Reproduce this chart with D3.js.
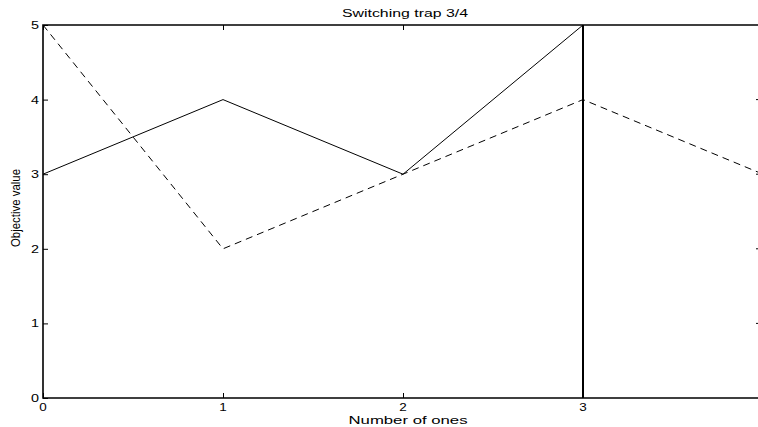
<!DOCTYPE html>
<html>
<head>
<meta charset="utf-8">
<script src="https://cdn.jsdelivr.net/npm/d3@7"></script>
<style>
  html, body { margin: 0; padding: 0; background: #fff; overflow: hidden; }
  svg { display: block; overflow: hidden; }
  text { font-family: "Liberation Sans", Arial, sans-serif; fill: #000; }
</style>
</head>
<body>
<svg id="chart" width="758" height="427"></svg>
<script>
// data
const ones = [0, 1, 2, 3, 4]
const solidVals = [3, 4, 3, 5]        // stops at 3 ones
const dashedVals = [5, 2, 3, 4, 3]
const markerX = 3                     // thick vertical line
const xTicks = [0, 1, 2, 3]
const yTicks = [0, 1, 2, 3, 4, 5]
const title = "Switching trap 3/4"

const svg = d3.select("#chart")
const plotLeft = 43, plotRight = 763, plotTop = 25, plotBottom = 398

svg.append("defs").append("clipPath").attr("id", "page")
  .append("rect").attr("width", 758).attr("height", 427)

const root = svg.append("g").attr("clip-path", "url(#page)")

const x = d3.scaleLinear().domain([0, 4]).range([plotLeft, plotRight])
const y = d3.scaleLinear().domain([0, 5]).range([plotBottom, plotTop])

const line = d3.line()
    .x(d => x(d[0]))
    .y(d => y(d[1]))

// solid series
root.append("path")
    .datum(solidVals.map((v, i) => [ones[i], v]))
    .attr("d", line)
    .attr("fill", "none")
    .attr("stroke", "#000")
    .attr("stroke-width", 1)

// dashed series
root.append("path")
    .datum(dashedVals.map((v, i) => [ones[i], v]))
    .attr("d", line)
    .attr("fill", "none")
    .attr("stroke", "#000")
    .attr("stroke-width", 1)
    .attr("stroke-dasharray", "7,5")

// vertical marker
root.append("path")
    .datum([[markerX, 0], [markerX, 5]])
    .attr("d", line)
    .attr("fill", "none")
    .attr("stroke", "#000")
    .attr("stroke-width", 2)

// box: the right edge falls outside the page, so only three sides
root.append("path")
    .attr("d", "M" + plotRight + "," + plotTop + "H" + plotLeft + "V" + plotBottom + "H" + plotRight)
    .attr("fill", "none")
    .attr("stroke", "#000")
    .attr("stroke-width", 1.6)

// inward ticks, labels drawn separately (stretched font)
root.append("g")
    .attr("transform", "translate(0," + plotBottom + ")")
    .call(d3.axisBottom(x).tickValues(xTicks).tickFormat("").tickSize(-5))
root.append("g")
    .attr("transform", "translate(0," + plotTop + ")")
    .call(d3.axisTop(x).tickValues(xTicks).tickFormat("").tickSize(-5))
root.append("g")
    .attr("transform", "translate(" + plotLeft + ",0)")
    .call(d3.axisLeft(y).tickValues(yTicks).tickFormat("").tickSize(-5))

root.selectAll(".domain").remove()
root.selectAll(".tick line").attr("stroke", "#000")

// right-hand ticks peek in at the window edge
root.selectAll(".rtick").data(yTicks.slice(1, 5)).enter().append("line")
    .attr("class", "rtick")
    .attr("x1", 756).attr("x2", 758)
    .attr("y1", d => y(d)).attr("y2", d => y(d))
    .attr("stroke", "#000")

// tick labels
root.selectAll(".xlab").data(xTicks).enter().append("text")
    .attr("class", "xlab")
    .attr("x", d => x(d))
    .attr("y", plotBottom + 13)
    .attr("text-anchor", "middle")
    .attr("textLength", 7.5)
    .attr("lengthAdjust", "spacingAndGlyphs")
    .style("font-size", "10.5px")
    .text(d => d)

root.selectAll(".ylab").data(yTicks).enter().append("text")
    .attr("class", "ylab")
    .attr("x", plotLeft - 4)
    .attr("y", d => y(d) + 4)
    .attr("text-anchor", "end")
    .attr("textLength", 8)
    .attr("lengthAdjust", "spacingAndGlyphs")
    .style("font-size", "10.5px")
    .text(d => d)

// labels
root.append("text")
    .attr("x", 405).attr("y", 17)
    .attr("text-anchor", "middle")
    .attr("textLength", 126)
    .attr("lengthAdjust", "spacingAndGlyphs")
    .style("font-size", "10px")
    .text(title)

root.append("text")
    .attr("x", 408).attr("y", 424)
    .attr("text-anchor", "middle")
    .attr("textLength", 119)
    .attr("lengthAdjust", "spacingAndGlyphs")
    .style("font-size", "11px")
    .text("Number of ones")

root.append("text")
    .attr("transform", "translate(20,208) rotate(-90)")
    .attr("text-anchor", "middle")
    .attr("textLength", 78)
    .attr("lengthAdjust", "spacingAndGlyphs")
    .style("font-size", "12px")
    .text("Objective value")
</script>
</body>
</html>
